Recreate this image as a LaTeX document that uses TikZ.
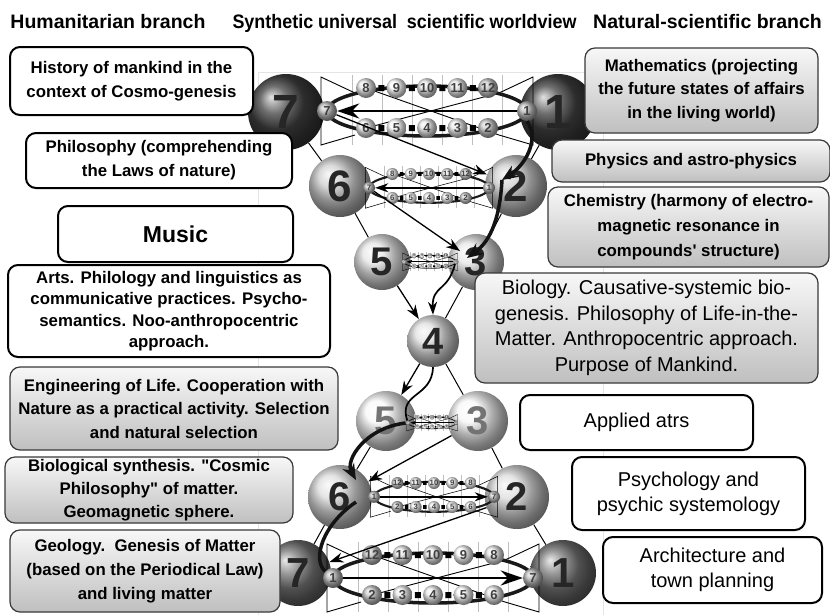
\documentclass[tikz,border=0pt]{standalone}
\usepackage{fontspec}
\setmainfont{Liberation Sans}
\newfontfamily\libf{Liberation Sans}
\newfontfamily\hdrn{Liberation Sans}[FakeStretch=0.92]
\usetikzlibrary{arrows.meta,backgrounds}
\tikzset{
 hdr/.style={font=\libf\bfseries\fontsize{19.5}{22}\selectfont,anchor=base,inner sep=0pt},
 wbox/.style={draw=black,line width=2pt,rounded corners=10pt,fill=white,align=center,inner sep=0pt},
 gbox/.style={draw=gray!45!black,line width=1.2pt,rounded corners=10pt,top color=gray!6,bottom color=gray!50,align=center,inner sep=0pt},
 bigball/.style={circle,inner sep=0pt,shading=ball,text=black!85,font=\libf\bfseries\fontsize{#1}{#1}\selectfont},
 sball/.style={circle,inner sep=0pt,minimum size=20pt,shading=ball,text=black!75,font=\libf\bfseries\fontsize{13}{13}\selectfont},
 thinarrow/.style={line width=1.3pt,-{Stealth[length=14pt,width=10pt]}},
 thickcurve/.style={line width=3.5pt,gray!15!black,-{Stealth[length=16pt,width=13pt]}},
 medcurve/.style={line width=1.7pt,black,-{Stealth[length=13pt,width=9pt]}},
 medline/.style={line width=1.7pt,black},
 hedge/.style={line width=1pt,black},
 bt/.style={font=\libf\bfseries\fontsize{16.8}{#1}\selectfont},
 rt/.style={font=\libf\fontsize{20}{#1}\selectfont},
}
\newcommand\dnapat[9]{%
 \begin{scope}[shift={(#2,#3)},scale=#4,transform shape]
 \pgfmathsetmacro\lwt{max(0.35,0.9*#4)}%
 \pgfmathsetmacro\lwk{3.5*#4}%
 \pgfmathsetmacro\lwa{2.6*#4}%
 \pgfmathsetmacro\al{22*#4}%
 \pgfmathsetmacro\aw{15*#4}%
 \foreach \gx in {-75,-45,-15,15,45,75}{\draw[gray!50,line width=\lwt pt] (\gx,-33) -- (\gx,37);}
 \draw[line width=\lwt pt] (-72,-15) -- (-106,-31) -- (-106,37) -- (-72,27);
 \draw[line width=\lwt pt] (72,-15) -- (106,-31) -- (106,37) -- (72,27);
 \draw[line width=\lwt pt] (-61,-20) -- (72,27) (-61,20) -- (72,-15);
 \draw[line width=\lwk pt,gray!20!black] (0,3) ellipse [x radius=100,y radius=25];
 \foreach \cx in {-45.75,-15.25,15.25,45.75}{\fill (\cx-3,-23) rectangle (\cx+3,-17) (\cx-3,17) rectangle (\cx+3,23);}
 \foreach \n [count=\i] in {#5}{\pgfmathtruncatemacro\bc{(\n==12||\n==2)?45:((\n==9||\n==5)?4:18)}\node[sball,ball color=gray!\bc] (#1t\i) at ({(\i-3)*30.5},-20) {\n};}
 \foreach \n [count=\i] in {#6}{\pgfmathtruncatemacro\bc{(\n==12||\n==2)?45:((\n==9||\n==5)?4:18)}\node[sball,ball color=gray!\bc] (#1b\i) at ({(\i-3)*30.5},20) {\n};}
 \node[sball,ball color=gray!55] (#1l) at (-100,3) {#7};
 \node[sball,ball color=gray!55] (#1r) at (100,3) {#8};
 \draw[line width=\lwa pt,>={Stealth[length=\al pt,width=\aw pt]},#9] (#1l) -- (#1r);
 \end{scope}}
\begin{document}
\begin{tikzpicture}[x=1pt,y=-1pt]
\useasboundingbox (0,0) rectangle (830,614);
% headers
\node[hdr] (h1) at (108,28) {Humanitarian branch};
\node[hdr,font=\hdrn\bfseries\fontsize{19.5}{22}\selectfont] (h2) at (404.5,28) {Synthetic universal\ \ scientific worldview};
\node[hdr] (h3) at (707.5,28) {Natural-scientific branch};
% big spheres
\node[bigball=48,minimum size=76pt,ball color=black!75] (s7t) at (286,112) {7};
\node[bigball=48,minimum size=76pt,ball color=black!75] (s1t) at (558,112) {1};
\node[bigball=44,minimum size=62pt,ball color=gray!40] (s6t) at (340,186) {6};
\node[bigball=44,minimum size=62pt,ball color=gray!40] (s2t) at (516,186) {2};
\node[bigball=40,minimum size=56pt,ball color=gray!20] (s5t) at (382,262) {5};
\node[bigball=40,minimum size=56pt,ball color=gray!20] (s3t) at (476,262) {3};
\node[bigball=38,minimum size=52pt,ball color=gray!25] (s4) at (433,341) {4};
\node[bigball=40,minimum size=60pt,ball color=gray!6,text=black!55] (s5b) at (386,421) {5};
\node[bigball=40,minimum size=60pt,ball color=gray!6,text=black!55] (s3b) at (478,421) {3};
\node[bigball=40,minimum size=64pt,ball color=gray!28] (s6b) at (340,497) {6};
\node[bigball=40,minimum size=64pt,ball color=gray!28] (s2b) at (517,497) {2};
\node[bigball=42,minimum size=66pt,ball color=black!55] (s7b) at (298,573) {7};
\node[bigball=42,minimum size=66pt,ball color=black!55] (s1b) at (563,573) {1};
\begin{scope}[on background layer]
 \draw[gray!20,line width=0.8pt] (258,640) -- (258,72) -- (603,72) -- (603,640);
 \draw[hedge] (s7t) -- (s6t) -- (s5t);
 \draw[hedge] (s5b) -- (s6b) -- (s7b);
 \draw[hedge] (s1t) -- (s2t) -- (s3t) -- (s4) -- (s3b) -- (s2b) -- (s1b);
\end{scope}
% patterns
\dnapat{pa}{427}{108}{1}{8,9,10,11,12}{6,5,4,3,2}{7}{1}{<-}
\dnapat{pb}{429}{186}{0.6}{8,9,10,11,12}{6,5,4,3,2}{7}{1}{<-}
\dnapat{pc}{430}{261}{0.26}{8,9,10,11,12}{6,5,4,3,2}{7}{1}{<-}
\dnapat{pd}{432}{422}{0.24}{8,9,10,11,12}{6,5,4,3,2}{7}{1}{<-}
\dnapat{pe}{434}{495}{0.6}{12,11,10,9,8}{2,3,4,5,6}{1}{7}{->}
\dnapat{pf}{433}{575}{1}{12,11,10,9,8}{2,3,4,5,6}{1}{7}{->}
% connectors
\coordinate (k1) at (502,180);
\coordinate (k2) at (467,258);
\coordinate (k3) at (460,251);
\coordinate (k4) at (455,264);
\coordinate (k5) at (356,480);
\coordinate (k6) at (356,502);
\draw[thinarrow] (pal) -- (s2t);
\draw[thickcurve] (par.south) .. controls (540,140) and (525,165) .. (k1);
\draw[thickcurve] (k1) .. controls (500,215) and (492,240) .. (k2);
\draw[thinarrow] (pbl) -- (k3);
\draw[medcurve] (k4) .. controls (448,292) and (432,285) .. (s4.north);
\draw[thinarrow] (s5t) -- (s4);
\draw[thinarrow] (s4) -- (s5b);
\draw[medline] (s4.south) .. controls (432,398) and (398,392) .. (pdl);
\draw[thickcurve] (pdl) .. controls (365,428) and (345,460) .. (k5);
\draw[thinarrow] (s3b) -- (s6b);
\draw[thinarrow] (s2b) -- (s7b);
\draw[line width=3.5pt,gray!15!black] (k6) .. controls (322,525) and (312,560) .. (pfl);
% left boxes
\node[wbox,minimum width=243pt,minimum height=68pt,bt=24] (hist) at (131.5,81) {History of mankind in the\\context of Cosmo-genesis};
\node[wbox,minimum width=266pt,minimum height=55pt,bt=24] (philo) at (159,160.5) {Philosophy (comprehending\\the Laws of nature)};
\node[wbox,minimum width=235pt,minimum height=56pt,font=\libf\bfseries\fontsize{23}{26}\selectfont] (music) at (175.5,234) {Music};
\node[wbox,minimum width=322pt,minimum height=92pt,bt=21.5] (arts) at (169,311) {Arts. Philology and linguistics as\\communicative practices. Psycho-\\semantics. Noo-anthropocentric\\approach.};
\node[gbox,minimum width=328pt,minimum height=83pt,bt=23.5] (eng) at (174,408.5) {Engineering of Life. Cooperation with\\Nature as a practical activity. Selection\\and natural selection};
\node[gbox,minimum width=288pt,minimum height=66pt,bt=23] (bios) at (149,490) {Biological synthesis. "Cosmic\\Philosophy" of matter.\\Geomagnetic sphere.};
\node[gbox,minimum width=270pt,minimum height=82pt,bt=24] (geo) at (145,571) {Geology.\ \ Genesis of Matter\\(based on the Periodical Law)\\and living matter};
% right boxes
\node[gbox,minimum width=233pt,minimum height=85pt,bt=23.5] (math) at (701.5,90.5) {Mathematics (projecting\\the future states of affairs\\in the living world)};
\node[gbox,minimum width=278pt,minimum height=42pt,bt=24] (phys) at (691,161) {Physics and astro-physics};
\node[gbox,minimum width=281pt,minimum height=80pt,bt=25] (chem) at (688.5,227) {Chemistry (harmony of electro-\\magnetic resonance in\\compounds' structure)};
\node[gbox,minimum width=343pt,minimum height=110pt,rt=25.5] (bio) at (646.5,328) {Biology. Causative-systemic bio-\\genesis. Philosophy of Life-in-the-\\Matter. Anthropocentric approach.\\Purpose of Mankind.};
\node[wbox,minimum width=233pt,minimum height=55pt,rt=25] (appl) at (636.5,422.5) {Applied atrs};
\node[wbox,minimum width=233pt,minimum height=73pt,rt=25] (psych) at (688.5,493.5) {Psychology and\\psychic systemology};
\node[wbox,minimum width=219pt,minimum height=66pt,rt=25] (arch) at (712.5,570) {Architecture and\\town planning};
\end{tikzpicture}
\end{document}
